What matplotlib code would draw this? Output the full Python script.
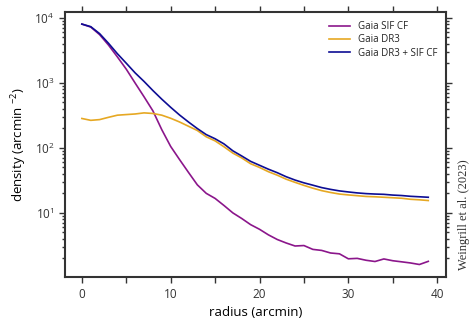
import numpy as np
import matplotlib
matplotlib.use('Agg')
import matplotlib.pyplot as plt
from matplotlib.ticker import MultipleLocator, LogLocator, NullFormatter

plt.rcParams['font.family'] = ['Open Sans', 'DejaVu Sans']
plt.rcParams['axes.edgecolor'] = '#333333'
plt.rcParams['xtick.color'] = '#333333'
plt.rcParams['ytick.color'] = '#333333'
plt.rcParams['text.color'] = '#222222'

radius = np.arange(0, 40)

sif_cf = [8000, 7200, 5500, 3800, 2500, 1620, 990, 610, 370, 190,
          105, 66, 42, 27, 20, 16.7, 13, 10, 8.2, 6.6,
          5.6, 4.6, 3.9, 3.45, 3.1, 3.15, 2.75, 2.65, 2.42, 2.35,
          1.97, 2.0, 1.87, 1.79, 1.96, 1.84, 1.77, 1.70, 1.61, 1.80]

dr3 = [283, 265, 272, 295, 318, 325, 332, 345, 338, 318,
       285, 250, 215, 185, 148, 128, 104, 83, 70, 57,
       50, 43, 38, 33, 29.5, 26.5, 24, 22, 20.6, 19.5,
       18.9, 18.4, 17.9, 17.7, 17.4, 17.1, 16.8, 16.2, 15.9, 15.5]

dr3_sif = [8000, 7300, 5700, 4050, 2800, 2000, 1420, 1050, 760, 560,
           420, 320, 250, 198, 160, 138, 115, 90, 75, 62,
           54, 47, 41.5, 36, 32, 29, 26.7, 24.5, 23, 21.8,
           21, 20.3, 19.8, 19.5, 19.3, 18.8, 18.5, 18.0, 17.7, 17.4]

fig = plt.figure(figsize=(4.71, 3.20), dpi=100)
ax = fig.add_axes([0.138, 0.134, 0.809, 0.828])

ax.plot(radius, sif_cf, color='#8b168b', lw=1.2, label='Gaia SIF CF')
ax.plot(radius, dr3, color='#e6a823', lw=1.2, label='Gaia DR3')
ax.plot(radius, dr3_sif, color='#0d0d94', lw=1.2, label='Gaia DR3 + SIF CF')

ax.set_yscale('log')
ax.set_xlim(-1.9, 41)
ax.set_ylim(1.03, 1.22e4)

ax.xaxis.set_major_locator(MultipleLocator(10))
ax.xaxis.set_minor_locator(MultipleLocator(5))
ax.yaxis.set_major_locator(LogLocator(base=10, numticks=10))
ax.yaxis.set_minor_locator(LogLocator(base=10, subs=np.arange(2, 10), numticks=20))
ax.yaxis.set_minor_formatter(NullFormatter())

ax.tick_params(which='both', direction='out', top=True, right=True,
               labelsize=8.5, width=1)
ax.tick_params(which='major', length=4)
ax.tick_params(which='minor', length=4, axis='x')
ax.tick_params(which='minor', length=2.5, axis='y')
for s in ax.spines.values():
    s.set_linewidth(1.5)

ax.set_xlabel('radius (arcmin)', fontsize=9.5)
ax.set_ylabel(r'density (arcmin $^{\mathdefault{-2}}$)', fontsize=9.5)

ax.legend(loc='upper right', bbox_to_anchor=(1.0, 1.0), frameon=False,
          fontsize=7, handlelength=2.2, handletextpad=0.8, labelspacing=0.25)

fig.text(0.985, 0.33, 'Weingrill et al. (2023)', rotation=90,
         family='Liberation Serif', fontsize=9, color='#333333',
         ha='center', va='center')

fig.savefig('out.png', dpi=100)
